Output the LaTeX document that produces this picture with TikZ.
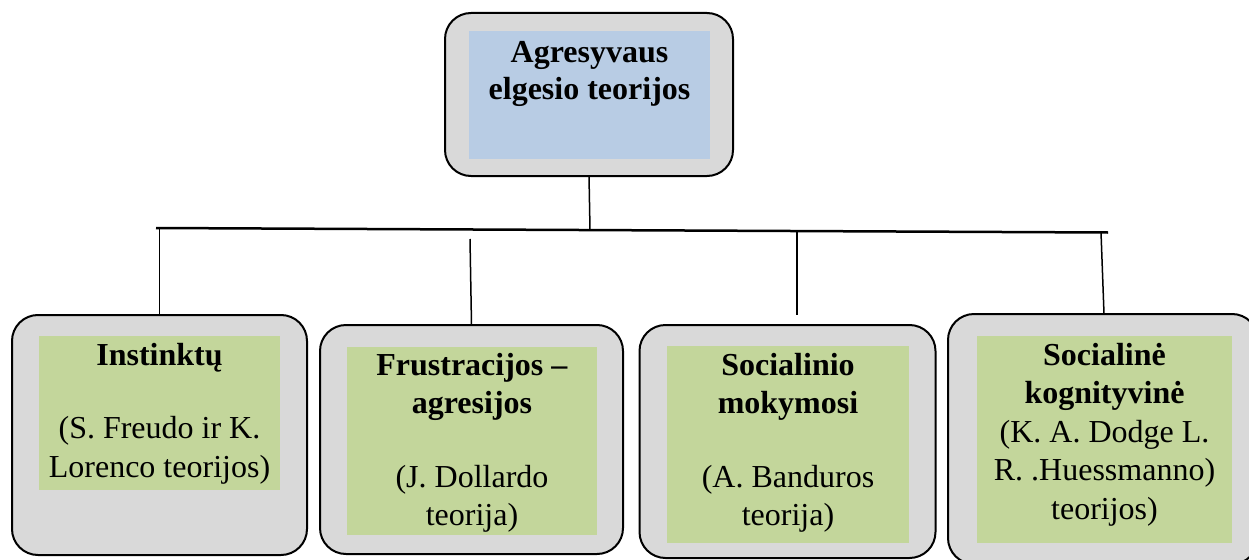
\documentclass[tikz,border=0pt]{standalone}
\usepackage{fontspec}
\setmainfont{Liberation Serif}
\definecolor{boxgray}{HTML}{D9D9D9}
\definecolor{topblue}{HTML}{B8CCE4}
\definecolor{leafgreen}{HTML}{C3D69B}
\tikzset{
  outerbox/.style={draw=black, line width=2pt, fill=boxgray, rounded corners=26pt,
    inner sep=0pt, outer sep=0pt},
  bluebox/.style={fill=topblue, draw=none, inner sep=0pt, outer sep=0pt},
  greenbox/.style={fill=leafgreen, draw=none, inner sep=0pt, outer sep=0pt},
  label/.style={anchor=north, align=center, inner sep=0pt, outer sep=0pt,
    font=\fontsize{32}{38.5}\selectfont},
  conn/.style={draw=black, line width=1.5pt},
  bar/.style={draw=black, line width=2.5pt}
}
\begin{document}
\begin{tikzpicture}[x=1pt, y=-1pt]
\useasboundingbox (0,0) rectangle (1249,559);
\clip (0,0) rectangle (1249,559);
% top box
\node[outerbox, minimum width=288pt, minimum height=163pt] (top) at (589,94.5) {};
\node[bluebox, minimum width=241pt, minimum height=128pt] (topin) at (589.5,95) {};
\node[label] (toptxt) at (589.5,31) {\rule{0pt}{32pt}\textbf{Agresyvaus}\\[-1.5pt]\textbf{elgesio teorijos}};
% bottom boxes
\node[outerbox, minimum width=295pt, minimum height=240pt] (b1) at (159.5,435) {};
\node[greenbox, minimum width=241pt, minimum height=154pt] (b1in) at (159.5,413) {};
\node[label] (b1txt) at (159.5,336) {\rule{0pt}{29pt}\textbf{Instinktų}\\[35pt](S. Freudo ir K.\\Lorenco teorijos)};

\node[outerbox, minimum width=303pt, minimum height=229pt] (b2) at (471.5,439.5) {};
\node[greenbox, minimum width=250pt, minimum height=188pt] (b2in) at (472,441) {};
\node[label] (b2txt) at (472,347) {\rule{0pt}{28pt}\textbf{Frustracijos –}\\\textbf{agresijos}\\[35pt](J. Dollardo\\teorija)};

\node[outerbox, minimum width=296pt, minimum height=233pt] (b3) at (787.5,441.5) {};
\node[greenbox, minimum width=242pt, minimum height=197pt] (b3in) at (788,444.5) {};
\node[label] (b3txt) at (788,346) {\rule{0pt}{29pt}\textbf{Socialinio}\\\textbf{mokymosi}\\[35pt](A. Banduros\\teorija)};

\node[outerbox, minimum width=310pt, minimum height=250pt] (b4) at (1103,439) {};
\node[greenbox, minimum width=255pt, minimum height=207pt] (b4in) at (1104.5,439.5) {};
\node[label] (b4txt) at (1104.5,336) {\rule{0pt}{29pt}\textbf{Socialinė}\\\textbf{kognityvinė}\\(K. A. Dodge L.\\R. .Huessmanno)\\teorijos)};

% connectors
\coordinate (hl) at (156,228);
\coordinate (hr) at (1108,232.5);
\coordinate (hm) at (590,229.8);
\coordinate (h1) at (159.5,228);
\coordinate (v2top) at (470,239);
\coordinate (h3) at (797,231);
\coordinate (v3bot) at (797,315);
\coordinate (h4) at (1101,232.3);
\draw[bar] (hl) -- (hr);
\draw[conn] (top.south) -- (hm);
\draw[conn] (h1) -- (b1.north);
\draw[conn] (v2top) -- (b2.north);
\draw[conn] (h3) -- (v3bot);
\draw[conn] (h4) -- ([xshift=1pt]b4.north);
\end{tikzpicture}
\end{document}
